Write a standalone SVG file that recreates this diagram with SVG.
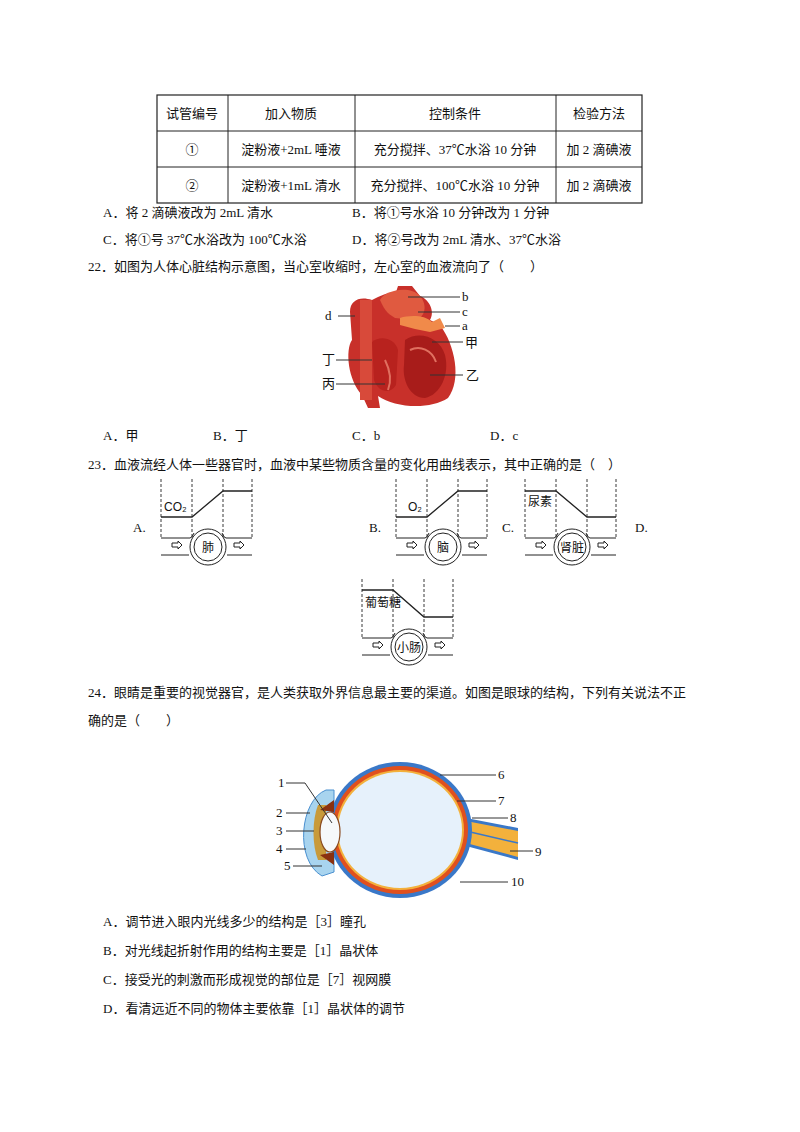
<svg xmlns="http://www.w3.org/2000/svg" width="800" height="1132" viewBox="0 0 800 1132">
<style>
text{font-family:"Liberation Serif","Noto Sans CJK SC",serif;font-size:13px;fill:#111}
.t{text-anchor:middle}
.g{fill:none;stroke:#222;stroke-width:1}
.d{fill:none;stroke:#222;stroke-width:0.9;stroke-dasharray:3,2}
.lv{fill:none;stroke:#222;stroke-width:1.3}
.s{font-family:"Liberation Sans","Noto Sans CJK SC",sans-serif;font-size:12px}
.ln{stroke:#333;stroke-width:1;fill:none}
</style>
<defs>
<g id="pipe">
<line class="d" x1="0" y1="4" x2="0" y2="63"/>
<line class="d" x1="31" y1="4" x2="31" y2="63"/>
<line class="d" x1="62" y1="4" x2="62" y2="63"/>
<line class="d" x1="91" y1="4" x2="91" y2="63"/>
<path class="g" d="M0,63 H29 Q31,63 33,58 M61,58 Q63,63 65,63 H91"/>
<path class="g" d="M0,80 H28 M66,80 H91"/>
<circle class="g" cx="47" cy="72" r="18"/>
<circle class="g" cx="47" cy="72" r="14"/>
<path class="g" d="M11,68 h6 v-2 l4,4 l-4,4 v-2 h-6 z"/>
<path class="g" d="M73,68 h6 v-2 l4,4 l-4,4 v-2 h-6 z"/>
</g>
</defs>
<rect width="800" height="1132" fill="#fff"/>
<g id="table">
<rect x="157" y="95" width="485" height="108" fill="none" stroke="#222" stroke-width="1.2"/>
<path class="g" d="M157,131 H642 M157,167 H642 M228,95 V203 M355,95 V203 M556,95 V203"/>
<text class="t" x="192" y="118">试管编号</text><text class="t" x="291" y="118">加入物质</text><text class="t" x="455" y="118">控制条件</text><text class="t" x="599" y="118">检验方法</text>
<text class="t" x="192" y="154">①</text><text class="t" x="291" y="154">淀粉液+2mL 唾液</text><text class="t" x="455" y="154">充分搅拌、37℃水浴 10 分钟</text><text class="t" x="599" y="154">加 2 滴碘液</text>
<text class="t" x="192" y="190">②</text><text class="t" x="291" y="190">淀粉液+1mL 清水</text><text class="t" x="455" y="190">充分搅拌、100℃水浴 10 分钟</text><text class="t" x="599" y="190">加 2 滴碘液</text>
</g>
<text x="103" y="217">A．将 2 滴碘液改为 2mL 清水</text>
<text x="352" y="217">B．将①号水浴 10 分钟改为 1 分钟</text>
<text x="103" y="244">C．将①号 37℃水浴改为 100℃水浴</text>
<text x="352" y="244">D．将②号改为 2mL 清水、37℃水浴</text>
<text x="88" y="271">22．如图为人体心脏结构示意图，当心室收缩时，左心室的血液流向了（　　）</text>
<g id="heart">
<path d="M372,300 C360,296 350,300 350,312 L352,340 C345,350 348,380 362,395 L368,408 L380,408 L378,396 C395,408 430,410 448,398 C462,380 455,345 440,325 L430,320 C435,312 430,300 420,296 L412,286 L398,286 L396,292 C388,292 380,296 372,300 Z" fill="#c8302a"/>
<path d="M360,300 L360,400 L372,400 L372,300 Z" fill="#d84a3a"/>
<path d="M380,300 C385,290 410,285 420,296 C428,305 425,318 415,320 L395,318 C390,315 385,312 380,300 Z" fill="#e05a40"/>
<path d="M400,318 C410,315 425,315 432,322 L440,318 L445,328 L430,332 C420,330 410,328 400,325 Z" fill="#f08a4a"/>
<path d="M372,342 C380,335 395,338 398,350 L396,385 C390,395 378,392 374,380 Z" fill="#b8221e"/>
<path d="M405,340 C420,330 440,338 445,355 C450,375 440,395 425,398 C410,398 402,380 404,365 Z" fill="#a81c1a"/>
<path d="M410,350 C420,345 432,350 436,362" fill="none" stroke="#e07060" stroke-width="2"/>
<path d="M385,360 C390,370 392,380 388,390" fill="none" stroke="#e07060" stroke-width="2"/>
</g>
<g id="heart-labels">
<path class="ln" d="M408,297 H460 M418,312 H460 M445,326 H460 M432,342 H463 M430,375 H463 M338,316 H355 M336,360 H372 M336,384 H385"/>
<text x="462" y="301" font-size="12">b</text><text x="462" y="316" font-size="12">c</text><text x="462" y="330" font-size="12">a</text>
<text x="465" y="347" font-size="12">甲</text><text x="466" y="380" font-size="12">乙</text>
<text x="325" y="320" font-size="12">d</text><text x="322" y="364" font-size="12">丁</text><text x="322" y="388" font-size="12">丙</text>
</g>
<text x="103" y="440">A．甲</text><text x="213" y="440">B．丁</text><text x="352" y="440">C．b</text><text x="490" y="440">D．c</text>
<text x="88" y="469">23．血液流经人体一些器官时，血液中某些物质含量的变化用曲线表示，其中正确的是（　）</text>
<g id="graphA" transform="translate(161,475)">
<use href="#pipe"/><path class="lv" d="M0,42 H31 L62,16 H91"/>
<text class="s" x="3" y="36" font-size="13">CO₂</text><text class="s t" x="47" y="77">肺</text>
</g>
<g id="graphB" transform="translate(396,475)">
<use href="#pipe"/><path class="lv" d="M0,42 H31 L62,16 H91"/>
<text class="s" x="12" y="36" font-size="13">O₂</text><text class="s t" x="47" y="77">脑</text>
</g>
<g id="graphC" transform="translate(525,475)">
<use href="#pipe"/><path class="lv" d="M0,16 H31 L62,42 H91"/>
<text class="s" x="3" y="31">尿素</text><text class="s t" x="47" y="77">肾脏</text>
</g>
<g id="graphD" transform="translate(362,575)">
<use href="#pipe"/><path class="lv" d="M0,15 H31 L62,42 H91"/>
<text class="s" x="3" y="32">葡萄糖</text><text class="s t" x="47" y="77">小肠</text>
</g>
<text x="133" y="532">A.</text><text x="369" y="532">B.</text><text x="502" y="532">C.</text><text x="635" y="532">D.</text>
<text x="88" y="697">24．眼睛是重要的视觉器官，是人类获取外界信息最主要的渠道。如图是眼球的结构，下列有关说法不正</text>
<text x="88" y="725">确的是（　　）</text>
<g id="eye">
<path d="M518,828 L466,818 L466,846 L518,860 Z" fill="#3a78c8"/>
<path d="M518,831 L466,821 L466,843 L518,857 Z" fill="#f3b13c"/>
<path d="M466,831 L518,843" stroke="#3a78c8" stroke-width="1.5"/>
<path d="M326,790 C300,800 294,860 322,876 L334,872 L334,790 Z" fill="#a8d4ef" stroke="#4a90d0" stroke-width="1"/>
<ellipse cx="400" cy="830" rx="72" ry="68" fill="#3a78c8"/>
<ellipse cx="400" cy="830" rx="68" ry="64" fill="#e0501e"/>
<ellipse cx="400" cy="830" rx="64" ry="60" fill="#f3b13c"/>
<ellipse cx="400" cy="830" rx="62" ry="58" fill="#e6f1fb"/>
<path d="M318,805 C312,820 312,845 318,860 L326,860 L326,805 Z" fill="#c89a3a"/>
<path d="M320,810 L334,800 L334,812 Z M320,855 L334,865 L334,852 Z" fill="#8a3010"/>
<ellipse cx="330" cy="832" rx="10" ry="20" fill="#f6f8fb" stroke="#8a4a20" stroke-width="1.2"/>
</g>
<g id="eye-labels">
<path class="ln" d="M286,783 H305 L332,823 M286,813 H310 M286,831 H314 M286,849 H306 M293,866 H322 M440,775 H496 M457,801 H496 M472,818 H508 M510,851 H533 M460,882 H508"/>
<text x="278" y="787" font-size="12">1</text><text x="276" y="817" font-size="12">2</text><text x="276" y="835" font-size="12">3</text><text x="276" y="853" font-size="12">4</text><text x="284" y="870" font-size="12">5</text>
<text x="498" y="779" font-size="12">6</text><text x="498" y="805" font-size="12">7</text><text x="510" y="822" font-size="12">8</text><text x="535" y="856" font-size="12">9</text><text x="511" y="886" font-size="12">10</text>
</g>
<text x="103" y="926">A．调节进入眼内光线多少的结构是［3］瞳孔</text>
<text x="103" y="955">B．对光线起折射作用的结构主要是［1］晶状体</text>
<text x="103" y="984">C．接受光的刺激而形成视觉的部位是［7］视网膜</text>
<text x="103" y="1013">D．看清远近不同的物体主要依靠［1］晶状体的调节</text>
</svg>
